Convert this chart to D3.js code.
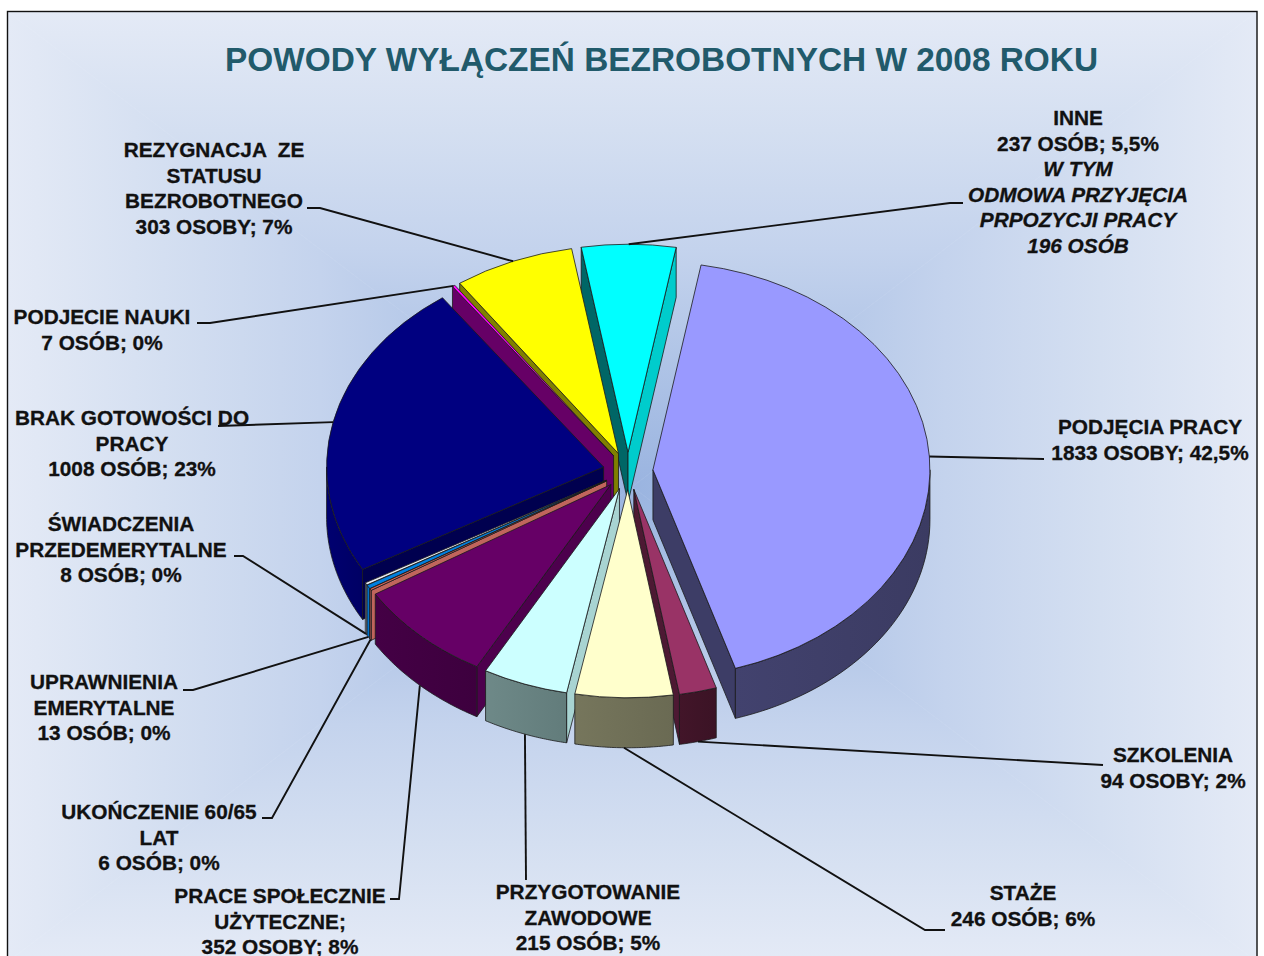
<!DOCTYPE html>
<html>
<head>
<meta charset="utf-8">
<script src="https://cdn.jsdelivr.net/npm/d3@7"></script>
<style>
  html, body { margin: 0; padding: 0; background: #fff; overflow: hidden; }
  svg { display: block; }
  text { font-family: "Liberation Sans", Arial, sans-serif; font-weight: bold; }
</style>
</head>
<body>
<div id="chart"></div>
<script>
// --------------------------------------
//  Data
// --------------------------------------

const title = "POWODY WYŁĄCZEŃ BEZROBOTNYCH W 2008 ROKU";

const values = [1833, 94, 246, 215, 352, 6, 13, 8, 1008, 7, 303, 237];

const labels = [
  ["PODJĘCIA PRACY", "1833 OSOBY; 42,5%"],
  ["SZKOLENIA", "94 OSOBY; 2%"],
  ["STAŻE", "246 OSÓB; 6%"],
  ["PRZYGOTOWANIE", "ZAWODOWE", "215 OSÓB; 5%"],
  ["PRACE SPOŁECZNIE", "UŻYTECZNE;", "352 OSOBY; 8%"],
  ["UKOŃCZENIE 60/65", "LAT", "6 OSÓB; 0%"],
  ["UPRAWNIENIA", "EMERYTALNE", "13 OSÓB; 0%"],
  ["ŚWIADCZENIA", "PRZEDEMERYTALNE", "8 OSÓB; 0%"],
  ["BRAK GOTOWOŚCI DO", "PRACY", "1008 OSÓB; 23%"],
  ["PODJECIE NAUKI", "7 OSÓB; 0%"],
  ["REZYGNACJA  ZE", "STATUSU", "BEZROBOTNEGO", "303 OSOBY; 7%"],
  ["INNE", "237 OSÓB; 5,5%", "W TYM", "ODMOWA PRZYJĘCIA", "PRPOZYCJI PRACY", "196 OSÓB"]
];

// --------------------------------------
//  Colours per slice
// --------------------------------------

const topColors   = ["#9999ff", "#993366", "#ffffcc", "#ccffff", "#660066", "#e06a5c", "#0080e0", "#e8ecf4", "#000080", "#ff00ff", "#ffff00", "#00ffff"];
const outerColors = ["#3d3d66", "#3d1426", "#6e6e56", "#66807f", "#3f0040", "#c0655c", "#0070c8", "#a8b0c4", "#000068", "#660066", "#808000", "#00cccc"];
const startColors = ["#3d3d66", "#4d1933", "#6e6e56", "#a8d4d2", "#4d004d", "#c0655c", "#0070c8", "#a8b0c4", "#00004f", "#660066", "#808000", "#006666"];
const endColors   = ["#3d3d66", "#4d1933", "#6e6e56", "#a8d4d2", "#4d004d", "#c0655c", "#0070c8", "#a8b0c4", "#00004f", "#660066", "#808000", "#00cccc"];

// --------------------------------------
//  Margin and canvas
// --------------------------------------

const width = 1264;
const height = 956;
const frame = {left: 7.5, top: 11.5, right: 1257, bottom: 962};

const rx = 277;
const ry = 208;
const depth = 50;
const explode = 25;
const center = {x: 628, y: 471};

const svg = d3.select("#chart")
  .append("svg")
    .attr("width", width)
    .attr("height", height)
    .attr("viewBox", `0 0 ${width} ${height}`);

const defs = svg.append("defs");

// --------------------------------------
//  Background, rectangular path gradient
// --------------------------------------

const bgStops = [
  [0, "#e4eaf6"], [0.25, "#d4dff1"], [0.5, "#c4d3ed"], [0.75, "#aec3e6"], [1, "#9ab4e0"]
];

const mid = {x: (frame.left + frame.right) / 2, y: (frame.top + frame.bottom) / 2};

const bgSides = [
  {id: "bg-l", from: [frame.left, mid.y], corners: [[frame.left, frame.top], [frame.left, frame.bottom]]},
  {id: "bg-r", from: [frame.right, mid.y], corners: [[frame.right, frame.top], [frame.right, frame.bottom]]},
  {id: "bg-t", from: [mid.x, frame.top], corners: [[frame.left, frame.top], [frame.right, frame.top]]},
  {id: "bg-b", from: [mid.x, frame.bottom], corners: [[frame.left, frame.bottom], [frame.right, frame.bottom]]}
];

bgSides.forEach(s => {
  const g = defs.append("linearGradient")
      .attr("id", s.id)
      .attr("gradientUnits", "userSpaceOnUse")
      .attr("x1", s.from[0]).attr("y1", s.from[1])
      .attr("x2", mid.x).attr("y2", mid.y);
  bgStops.forEach(d => g.append("stop").attr("offset", d[0]).attr("stop-color", d[1]));
});

svg.selectAll(".bg")
  .data(bgSides)
  .join("polygon")
    .attr("class", "bg")
    .attr("points", d => [d.corners[0], d.corners[1], [mid.x, mid.y]].join(" "))
    .attr("fill", d => `url(#${d.id})`)
    .attr("stroke", d => `url(#${d.id})`)
    .attr("stroke-width", 0.6);

svg.append("rect")
    .attr("x", frame.left)
    .attr("y", frame.top)
    .attr("width", frame.right - frame.left)
    .attr("height", frame.bottom - frame.top)
    .attr("fill", "none")
    .attr("stroke", "#111")
    .attr("stroke-width", 1.4);

svg.append("text")
    .attr("x", 661.5)
    .attr("y", 71)
    .attr("text-anchor", "middle")
    .attr("font-size", 33.4)
    .attr("fill", "#215a6b")
    .text(title);

// --------------------------------------
//  Pie layout
// --------------------------------------

const pie = d3.pie()
    .sort(null)
    .startAngle(10 * Math.PI / 180)
    .endAngle(370 * Math.PI / 180);

const slices = pie(values).map((d, i) => {
  const a = (d.startAngle + d.endAngle) / 2;
  return {
    ...d,
    i,
    mid: a,
    cx: center.x + explode * Math.sin(a),
    cy: center.y - explode * (ry / rx) * Math.cos(a)
  };
});

const px = (s, a) => s.cx + rx * Math.sin(a);
const py = (s, a) => s.cy - ry * Math.cos(a);

const arc = d3.arc().innerRadius(0).outerRadius(rx);
const line = d3.line();

// side wall along one radial edge, from the slice apex to the rim
const radialWall = (s, a) => line([
  [s.cx, s.cy],
  [px(s, a), py(s, a)],
  [px(s, a), py(s, a) + depth],
  [s.cx, s.cy + depth]
]) + "Z";

// outer wall, only the part of the rim that faces the viewer
const outerWall = s => {
  const a0 = Math.max(s.startAngle, Math.PI / 2);
  const a1 = Math.min(s.endAngle, 3 * Math.PI / 2);
  if (a1 <= a0) return null;
  const angles = d3.range(0, 41).map(k => a0 + (a1 - a0) * k / 40);
  const rim = angles.map(a => [px(s, a), py(s, a)]);
  const low = angles.slice().reverse().map(a => [px(s, a), py(s, a) + depth]);
  return line(rim.concat(low)) + "Z";
};

slices.forEach(s => {
  const g = defs.append("linearGradient").attr("id", `wall-${s.i}`);
  g.append("stop").attr("offset", 0).attr("stop-color", d3.color(outerColors[s.i]).brighter(0.2));
  g.append("stop").attr("offset", 1).attr("stop-color", d3.color(outerColors[s.i]).darker(0.1));
});

// --------------------------------------
//  Data drawing, back slices first
// --------------------------------------

const chart = svg.append("g")
    .attr("stroke", "#1a1a1a")
    .attr("stroke-width", 0.8)
    .attr("stroke-linejoin", "round");

const sliceGroups = chart.selectAll(".slice")
  .data(slices.slice().sort((a, b) => d3.ascending(a.cy, b.cy)))
  .join("g")
    .attr("class", "slice");

sliceGroups.filter(d => Math.sin(d.startAngle) < 0)
  .append("path")
    .attr("d", d => radialWall(d, d.startAngle))
    .attr("fill", d => startColors[d.i]);

sliceGroups.filter(d => Math.sin(d.endAngle) > 0)
  .append("path")
    .attr("d", d => radialWall(d, d.endAngle))
    .attr("fill", d => endColors[d.i]);

sliceGroups.filter(d => outerWall(d) !== null)
  .append("path")
    .attr("d", outerWall)
    .attr("fill", d => `url(#wall-${d.i})`);

sliceGroups.append("path")
    .attr("transform", d => `translate(${d.cx}, ${d.cy}) scale(1, ${ry / rx})`)
    .attr("d", arc)
    .attr("vector-effect", "non-scaling-stroke")
    .attr("fill", d => topColors[d.i]);

// --------------------------------------
//  Leader lines and labels
// --------------------------------------

const leaderPoints = [
  [[1044, 459]],
  [[1103, 765]],
  [[925, 930], [945, 930]],
  [[526, 880]],
  [[399, 899], [390, 899]],
  [[272, 818], [262, 818]],
  [[193, 690], [183, 690]],
  [[243, 556], [234, 556]],
  [[218, 426]],
  [[210, 323], [197, 323]],
  [[320, 208], [307, 208]],
  [[950, 203], [963, 203]]
];

const labelCenters = [1150, 1173, 1023, 588, 280, 159, 104, 121, 132, 102, 214, 1078];
const labelBaselines = [434, 762, 900, 899, 903, 819, 689, 531, 425, 324, 157, 125];
const lineStep = 25.6;

const anchor = s => {
  const wall = Math.cos(s.mid) < 0 ? depth : 0;
  return [
    center.x + (rx + explode) * Math.sin(s.mid),
    center.y - (ry + explode * ry / rx) * Math.cos(s.mid) + wall
  ];
};

svg.selectAll(".leader")
  .data(slices)
  .join("path")
    .attr("class", "leader")
    .attr("d", d => line([anchor(d)].concat(leaderPoints[d.i])))
    .attr("fill", "none")
    .attr("stroke", "#111")
    .attr("stroke-width", 1.9);

const labelGroups = svg.selectAll(".label")
  .data(slices)
  .join("text")
    .attr("class", "label")
    .attr("text-anchor", "middle")
    .attr("font-size", 20.8)
    .attr("fill", "#111")
    .attr("stroke", "#111")
    .attr("stroke-width", 0.3);

labelGroups.selectAll("tspan")
  .data(d => labels[d.i].map((t, k) => ({t, k, i: d.i})))
  .join("tspan")
    .attr("x", d => labelCenters[d.i])
    .attr("y", d => labelBaselines[d.i] + d.k * lineStep)
    .attr("xml:space", "preserve")
    .attr("font-style", d => (d.i === 11 && d.k >= 2) ? "italic" : "normal")
    .text(d => d.t);
</script>
</body>
</html>
